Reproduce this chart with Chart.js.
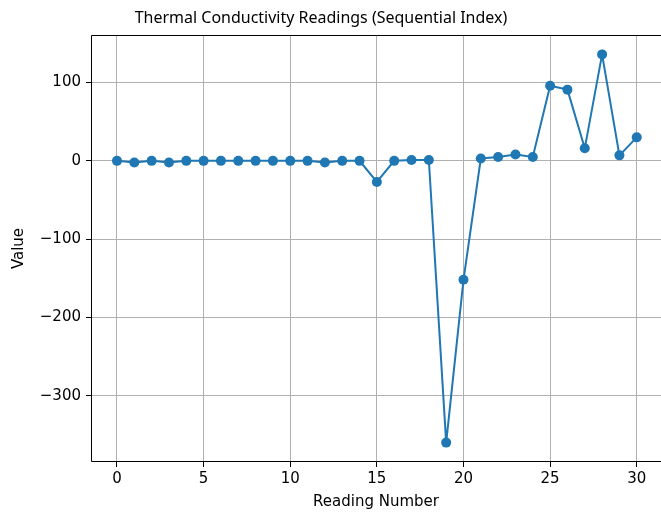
<!DOCTYPE html>
<html>
<head>
<meta charset="utf-8">
<script src="https://cdn.jsdelivr.net/npm/chart.js@4.4.0/dist/chart.umd.min.js"></script>
<style>
  html, body { margin: 0; padding: 0; background: #fff; }
  #wrap { width: 661px; height: 512px; }
</style>
</head>
<body>
<div id="wrap"><canvas id="myChart" width="661" height="512"></canvas></div>
<script>
// reading index and values
var readingIdx = [0, 1, 2, 3, 4, 5, 6, 7, 8, 9, 10, 11, 12, 13, 14, 15, 16, 17, 18, 19, 20, 21, 22, 23, 24, 25, 26, 27, 28, 29, 30];
var readingVals = [0, -2, 0, -2, 0, 0, 0, 0, 0, 0, 0, 0, -2, 0, 0, -27, 0, 1, 1, -360, -152, 3, 5, 8, 5, 96, 91, 16, 136, 7, 30];
var xTickVals = [0, 5, 10, 15, 20, 25, 30];
var yTickVals = [-300, -200, -100, 0, 100];
var chartTitle = 'Thermal Conductivity Readings (Sequential Index)';

var points = [];
for (var i = 0; i < readingIdx.length; i++) {
    points.push({ x: readingIdx[i], y: readingVals[i] });
}

// black frame round the plot area (right side falls off the canvas) + title
var frameBox = {
    id: 'frameBox',
    afterDraw: function (chart) {
        var a = chart.chartArea;
        var ctx = chart.ctx;
        ctx.save();
        ctx.strokeStyle = '#000';
        ctx.lineWidth = 1;
        ctx.beginPath();
        ctx.moveTo(a.right + 5, a.top + 0.5);
        ctx.lineTo(a.left + 0.5, a.top + 0.5);
        ctx.lineTo(a.left + 0.5, a.bottom - 0.5);
        ctx.lineTo(a.right + 5, a.bottom - 0.5);
        ctx.stroke();
        ctx.restore();

        ctx.save();
        ctx.translate(321, 18);
        ctx.scale(0.94, 1);
        ctx.fillStyle = '#000';
        ctx.font = '17px "Noto Sans"';
        ctx.textAlign = 'center';
        ctx.textBaseline = 'middle';
        ctx.fillText(chartTitle, 0, 0);
        ctx.restore();
    }
};

function setTicks(vals) {
    return function (scale) {
        scale.ticks = vals.map(function (v) { return { value: v }; });
    };
}

Chart.defaults.font.family = 'DejaVu Sans';
Chart.defaults.color = '#222';

var ctx = document.getElementById('myChart');
var myChart = new Chart(ctx, {
    type: 'line',
    data: {
        datasets: [{
            data: points,
            borderColor: '#1f77b4',
            backgroundColor: '#1f77b4',
            borderWidth: 2,
            pointRadius: 5,
            pointHoverRadius: 5,
            pointBorderWidth: 0,
            tension: 0
        }]
    },
    options: {
        responsive: false,
        animation: false,
        layout: { autoPadding: false, padding: { left: 0, right: 0, top: 35, bottom: 0 } },
        plugins: {
            legend: { display: false },
            tooltip: { enabled: false },
            title: { display: false }
        },
        scales: {
            x: {
                type: 'linear',
                min: -1.5,
                max: 31.4,
                afterBuildTicks: setTicks(xTickVals),
                afterFit: function (s) { s.height = 50; s.paddingLeft = 0; s.paddingRight = 0; },
                grid: { color: '#b0b0b0', tickColor: '#000', tickLength: 5, lineWidth: 1 },
                border: { display: false },
                ticks: { color: '#000', font: { size: 15 }, padding: 3, maxRotation: 0 },
                title: { display: true, text: 'Reading Number', color: '#000', font: { size: 15 }, padding: { top: 3, bottom: 1 } }
            },
            y: {
                type: 'linear',
                min: -384.8,
                max: 160.8,
                afterBuildTicks: setTicks(yTickVals),
                afterFit: function (s) { s.width = 91; s.paddingTop = 0; s.paddingBottom = 0; },
                grid: { color: '#b0b0b0', tickColor: '#000', tickLength: 5, lineWidth: 1 },
                border: { display: false },
                ticks: {
                    color: '#000', font: { size: 15 }, padding: 5,
                    callback: function (v) { return v < 0 ? '\u2212' + Math.abs(v) : String(v); }
                },
                title: { display: true, text: 'Value', color: '#000', font: { size: 15 }, padding: { top: 10, bottom: 0 } }
            }
        }
    },
    plugins: [frameBox]
});
</script>
</body>
</html>
